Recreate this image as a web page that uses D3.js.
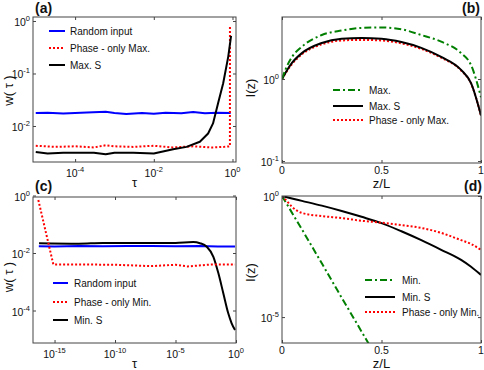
<!DOCTYPE html>
<html>
<head>
<meta charset="utf-8">
<script src="https://cdn.jsdelivr.net/npm/d3@7"></script>
<style>
  body { margin: 0; background: #fff; }
  text { font-family: "Liberation Sans", Arial, sans-serif; fill: #111; }
</style>
</head>
<body>
<svg id="fig" width="484" height="370"></svg>
<script>
// ---------- data ----------
// (a) w(tau), maximisation
const aBlueTau = [1e-5, 2e-5, 5e-5, 1e-4, 2e-4, 6e-4, 1e-3, 2e-3, 5e-3, 1e-2, 2e-2, 5e-2, 0.1, 0.2, 0.4, 0.9];
const aBlueW   = [0.0176, 0.0178, 0.0173, 0.0177, 0.0180, 0.0186, 0.0176, 0.0170, 0.0177, 0.0171, 0.0179, 0.0175, 0.0184, 0.0175, 0.0178, 0.0176];
const aRedTau  = [1e-5, 3e-5, 1e-4, 3e-4, 6e-4, 1e-3, 3e-3, 1e-2, 3e-2, 0.1, 0.3, 0.6, 0.86, 0.862];
const aRedW    = [0.0042, 0.0040, 0.0041, 0.0039, 0.0043, 0.0041, 0.0040, 0.0042, 0.0039, 0.0041, 0.0039, 0.0040, 0.0041, 0.84];
const aBlackTau = [1e-5, 2e-5, 5e-5, 1e-4, 3e-4, 6e-4, 1e-3, 3e-3, 1e-2, 3.1e-2, 6.8e-2, 0.148, 0.24, 0.32, 0.43, 0.58, 0.78, 0.92];
const aBlackW   = [0.0032, 0.0030, 0.0031, 0.0031, 0.0031, 0.0029, 0.0031, 0.0031, 0.0030, 0.0036, 0.0040, 0.0050, 0.0072, 0.0112, 0.027, 0.065, 0.21, 0.52];

// (b) I(z), maximisation
const bZ      = [0, 0.02, 0.05, 0.1, 0.2, 0.3, 0.4, 0.5, 0.6, 0.7, 0.8, 0.9, 0.95, 1];
const bMax    = [1.0, 1.35, 1.85, 2.48, 3.44, 3.9, 4.2, 4.25, 4.04, 3.44, 2.85, 2.07, 1.48, 0.60];
const bMaxS   = [1.0, 1.22, 1.57, 2.07, 2.75, 3.09, 3.16, 3.09, 2.82, 2.40, 1.86, 1.29, 0.89, 0.36];
const bPhase  = [1.0, 1.20, 1.52, 2.00, 2.65, 2.95, 3.00, 2.95, 2.72, 2.33, 1.82, 1.27, 0.88, 0.36];

// (c) w(tau), minimisation
const cBlueTau = [10**-16.3, 1e-15, 1e-13, 1e-11, 1e-9, 1e-7, 1e-5, 1e-3, 10**-1.5, 10**-0.08];
const cBlueW   = [0.0172, 0.0168, 0.0175, 0.0171, 0.0177, 0.0174, 0.0171, 0.0176, 0.0170, 0.0168];
const cRedTau  = [10**-16.34, 10**-15.1, 1e-13, 1e-10, 1e-7, 1e-5, 1e-4, 1e-2, 10**-0.08];
const cRedW    = [0.70, 0.0040, 0.0040, 0.0039, 0.0035, 0.0039, 0.0034, 0.0040, 0.0040];
const cBlackTau = [10**-16.28, 1e-13, 1e-11, 1e-8, 1e-5, 10**-3.53, 10**-2.98, 10**-2.42, 10**-1.87, 10**-1.46, 10**-1.05, 10**-0.64, 10**-0.36, 10**-0.08];
const cBlackW   = [0.0219, 0.0212, 0.0222, 0.0222, 0.0225, 0.0240, 0.0219, 0.0166, 0.0074, 0.0020, 4.0e-4, 8.0e-5, 3.6e-5, 2.1e-5];

// (d) I(z), minimisation
const dMinZ   = [0, 0.1, 0.2, 0.3, 0.45];
const dMin    = [1, 0.042, 1.66e-3, 6.3e-5, 5e-7];
const dZ      = [0, 0.02, 0.05, 0.1, 0.2, 0.3, 0.4, 0.5, 0.6, 0.7, 0.8, 0.9, 0.95, 1];
const dMinS   = [1, 0.91, 0.79, 0.63, 0.40, 0.24, 0.138, 0.076, 0.035, 0.015, 0.0060, 0.0023, 0.0012, 0.00055];
const dPhase  = [1, 0.68, 0.36, 0.20, 0.148, 0.123, 0.095, 0.079, 0.063, 0.048, 0.030, 0.015, 0.0105, 0.0059];

// tick values
const aXTicks = [1e-4, 1e-2, 1], aYTicks = [1, 0.1, 0.01];
const bXTicks = [0, 0.5, 1],     bYTicks = [1, 0.1];
const cXTicks = [1e-15, 1e-10, 1e-5, 1], cYTicks = [1, 1e-2, 1e-4];
const dXTicks = [0, 0.5, 1],     dYTicks = [1, 1e-5];

const BLUE = "#0000ff", RED = "#ff0000", BLACK = "#000", GREEN = "#007f00";

const svg = d3.select("#fig");

function pow10(sel, e) {
  sel.append("tspan").text("10");
  sel.append("tspan").attr("dy", -5).attr("font-size", 7.5).text(e);
}

function panel(o) {
  const g = svg.append("g");
  const x = (o.xLog ? d3.scaleLog() : d3.scaleLinear()).domain(o.xDomain).range([o.left, o.right]);
  const y = d3.scaleLog().domain(o.yDomain).range([o.bottom, o.top]);

  // clip to plot box
  svg.append("clipPath").attr("id", "clip-" + o.name)
    .append("rect")
    .attr("x", o.left).attr("y", o.top)
    .attr("width", o.right - o.left).attr("height", o.bottom - o.top);

  const lines = g.append("g").attr("clip-path", `url(#clip-${o.name})`);
  o.series.forEach(s => {
    const line = d3.line().x(d => x(d[0])).y(d => y(d[1]))
      .curve(s.smooth ? d3.curveMonotoneX : d3.curveLinear);
    lines.append("path")
      .datum(d3.zip(s.x, s.y))
      .attr("d", line)
      .attr("fill", "none")
      .attr("stroke", s.color)
      .attr("stroke-width", s.width || 2)
      .attr("stroke-dasharray", s.dash || null)
      .attr("stroke-linejoin", "round");
  });

  // axes (inward ticks, labels drawn separately)
  const tick = 3;
  g.append("g").attr("transform", `translate(0,${o.bottom})`)
    .call(d3.axisBottom(x).tickValues(o.xTicks).tickSize(-tick).tickFormat(""));
  g.append("g").attr("transform", `translate(0,${o.top})`)
    .call(d3.axisTop(x).tickValues(o.xTicks).tickSize(-tick).tickFormat(""));
  g.append("g").attr("transform", `translate(${o.left},0)`)
    .call(d3.axisLeft(y).tickValues(o.yTicks).tickSize(-tick).tickFormat(""));
  g.append("g").attr("transform", `translate(${o.right},0)`)
    .call(d3.axisRight(y).tickValues(o.yTicks).tickSize(-tick).tickFormat(""));
  g.selectAll(".domain").remove();
  g.selectAll(".tick line").attr("stroke", "#444");

  // frame
  g.append("rect")
    .attr("x", o.left).attr("y", o.top)
    .attr("width", o.right - o.left).attr("height", o.bottom - o.top)
    .attr("fill", "none").attr("stroke", "#444").attr("stroke-width", 1);

  // y tick labels
  o.yTicks.forEach(v => {
    const t = g.append("text")
      .attr("x", o.left - 3).attr("y", y(v) + 5)
      .attr("text-anchor", "end").attr("font-size", 10.5);
    pow10(t, Math.round(Math.log10(v)));
  });
  // x tick labels
  o.xTicks.forEach(v => {
    const t = g.append("text")
      .attr("x", x(v)).attr("text-anchor", "middle").attr("font-size", 10.5);
    if (o.xLog) { t.attr("y", o.bottom + 15); pow10(t, Math.round(Math.log10(v))); }
    else { t.attr("y", o.bottom + 11).text(v); }
  });

  // axis titles
  g.append("text").attr("x", (o.left + o.right) / 2).attr("y", o.bottom + 25)
    .attr("text-anchor", "middle").attr("font-size", 13).text(o.xTitle);
  g.append("text")
    .attr("transform", `translate(${o.yTitleX},${(o.top + o.bottom) / 2 + o.yTitleDy}) rotate(-90)`)
    .attr("text-anchor", "middle").attr("font-size", 13).text(o.yTitle);

  // panel tag
  g.append("text").attr("x", o.tagX).attr("y", o.tagY)
    .attr("font-size", 14).attr("font-weight", "bold").text(o.tag);

  // legend
  o.legend.forEach((s, i) => {
    const ly = o.legY[i];
    g.append("line")
      .attr("x1", o.legX[0]).attr("x2", o.legX[1]).attr("y1", ly).attr("y2", ly)
      .attr("stroke", s.color).attr("stroke-width", s.width || 2)
      .attr("stroke-dasharray", s.dash || null);
    g.append("text").attr("x", o.legX[2]).attr("y", ly + 3.5)
      .attr("font-size", 10).text(s.label);
  });
}

const dotted = "2,2", dashDot = "7,3,2,3";

// (a)
const aS = [
  { x: aBlueTau, y: aBlueW, color: BLUE, label: "Random input" },
  { x: aRedTau, y: aRedW, color: RED, dash: dotted, label: "Phase - only Max." },
  { x: aBlackTau, y: aBlackW, color: BLACK, label: "Max. S" }
];
panel({
  name: "a", tag: "(a)", tagX: 35, tagY: 13,
  left: 33, right: 236, top: 17, bottom: 162,
  xLog: true, xDomain: [10 ** -5.07, 10 ** 0.089], yDomain: [10 ** -2.686, 10 ** 0.076],
  xTicks: aXTicks, yTicks: aYTicks,
  xTitle: "τ", yTitle: "w( τ )", yTitleX: 13, yTitleDy: 1,
  series: aS, legend: aS, legX: [49, 65, 70], legY: [31, 48, 65]
});

// (b)
const bS = [
  { x: bZ, y: bMax, color: GREEN, dash: dashDot, smooth: true, label: "Max." },
  { x: bZ, y: bMaxS, color: BLACK, smooth: true, label: "Max. S" },
  { x: bZ, y: bPhase, color: RED, dash: dotted, smooth: true, label: "Phase - only Max." }
];
panel({
  name: "b", tag: "(b)", tagX: 462, tagY: 13,
  left: 282, right: 481, top: 17, bottom: 163,
  xLog: false, xDomain: [0, 1], yDomain: [10 ** -1.024, 10 ** 0.756],
  xTicks: bXTicks, yTicks: bYTicks,
  xTitle: "z/L", yTitle: "I(z)", yTitleX: 255, yTitleDy: -2,
  series: [bS[2], bS[1], bS[0]], legend: bS, legX: [333, 363, 369], legY: [90, 106, 120]
});

// (c)
const cS = [
  { x: cBlueTau, y: cBlueW, color: BLUE, label: "Random input" },
  { x: cRedTau, y: cRedW, color: RED, dash: dotted, label: "Phase - only Min." },
  { x: cBlackTau, y: cBlackW, color: BLACK, smooth: true, label: "Min. S" }
];
panel({
  name: "c", tag: "(c)", tagX: 35, tagY: 191,
  left: 33, right: 236, top: 197, bottom: 343,
  xLog: true, xDomain: [10 ** -16.78, 1], yDomain: [10 ** -5.13, 10 ** -0.052],
  xTicks: cXTicks, yTicks: cYTicks,
  xTitle: "τ", yTitle: "w( τ )", yTitleX: 13, yTitleDy: 7,
  series: [cS[0], cS[2], cS[1]], legend: cS, legX: [53, 68, 74], legY: [283, 302, 320]
});

// (d)
const dS = [
  { x: dMinZ, y: dMin, color: GREEN, dash: dashDot, label: "Min." },
  { x: dZ, y: dMinS, color: BLACK, smooth: true, label: "Min. S" },
  { x: dZ, y: dPhase, color: RED, dash: dotted, smooth: true, label: "Phase - only Min." }
];
panel({
  name: "d", tag: "(d)", tagX: 464, tagY: 191,
  left: 282, right: 481, top: 196, bottom: 343,
  xLog: false, xDomain: [0, 1], yDomain: [10 ** -6.07, 1],
  xTicks: dXTicks, yTicks: dYTicks,
  xTitle: "z/L", yTitle: "I(z)", yTitleX: 255, yTitleDy: 3,
  series: dS, legend: dS, legX: [365, 395, 402], legY: [280, 297, 312]
});
</script>
</body>
</html>
